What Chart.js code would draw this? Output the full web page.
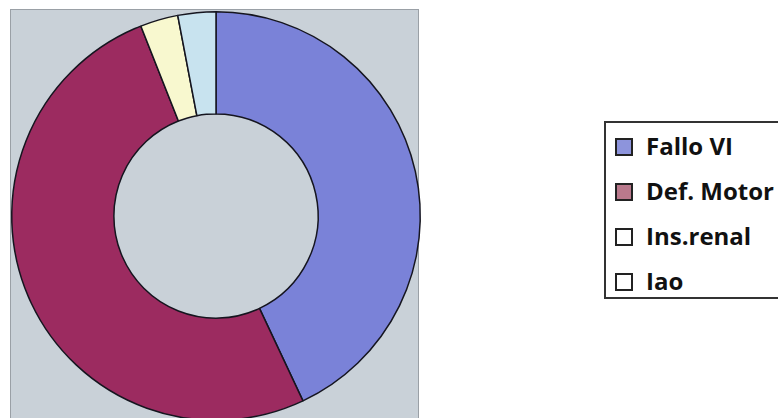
<!DOCTYPE html>
<html>
<head>
<meta charset="utf-8">
<script src="https://cdn.jsdelivr.net/npm/chart.js@4/dist/chart.umd.min.js"></script>
<style>
  html, body { margin: 0; padding: 0; background: #fff; overflow: hidden; }
  #wrap { position: absolute; left: 0; top: 0; width: 432px; height: 432px; }
  #legend {
    position: absolute; left: 604px; top: 121px; width: 190px; height: 178px;
    border: 2px solid #333; box-sizing: border-box; background: #fff;
    font-family: "Open Sans", sans-serif; font-weight: bold; font-size: 24px; color: #111;
  }
  .item { position: absolute; left: 9px; height: 30px; line-height: 30px; white-space: nowrap; }
  .box { position: absolute; left: 0; top: 6px; width: 14px; height: 14px; border: 2px solid #222; }
  .txt { position: absolute; left: 31px; top: -1px; }
</style>
</head>
<body>
<div id="wrap"><canvas id="donut"></canvas></div>
<div id="legend"></div>
<script>
const labels = ["Fallo VI", "Def. Motor", "Ins.renal", "Iao"];
const values = [43, 51, 3, 3];
const colors = ["#7a82d8", "#9c2b60", "#f8f8cf", "#c8e3ef"];
const keyColors = ["#8d94dc", "#b9798c", "#ffffff", "#ffffff"];

// grey plot area behind the ring
const plotBg = {
  id: "plotBg",
  beforeDraw(chart) {
    const ctx = chart.ctx;
    ctx.save();
    ctx.fillStyle = "#c9d1d8";
    ctx.fillRect(10, 9, 409, 412);
    ctx.strokeStyle = "#9aa0a6";
    ctx.lineWidth = 1;
    ctx.strokeRect(10.5, 9.5, 408, 412);
    ctx.restore();
  }
};

new Chart("donut", {
  type: "doughnut",
  data: {
    labels: labels,
    datasets: [{
      data: values,
      backgroundColor: colors,
      borderColor: "#15151f",
      borderWidth: 1.5,
      borderAlign: "center"
    }]
  },
  options: {
    responsive: true,
    maintainAspectRatio: false,
    animation: false,
    cutout: "50%",
    layout: {padding: {left: 11, top: 11, right: 11, bottom: 11}},
    plugins: {
      legend: {display: false},
      tooltip: {enabled: false}
    }
  },
  plugins: [plotBg]
});

// legend on the right
const legend = document.getElementById("legend");
const rowTops = [9, 54, 99, 144];
labels.forEach((name, i) => {
  const div = document.createElement("div");
  div.className = "item";
  div.style.top = rowTops[i] + "px";
  div.innerHTML = `<span class="box" style="background:${keyColors[i]}"></span><span class="txt">${name}</span>`;
  legend.appendChild(div);
});
</script>
</body>
</html>
